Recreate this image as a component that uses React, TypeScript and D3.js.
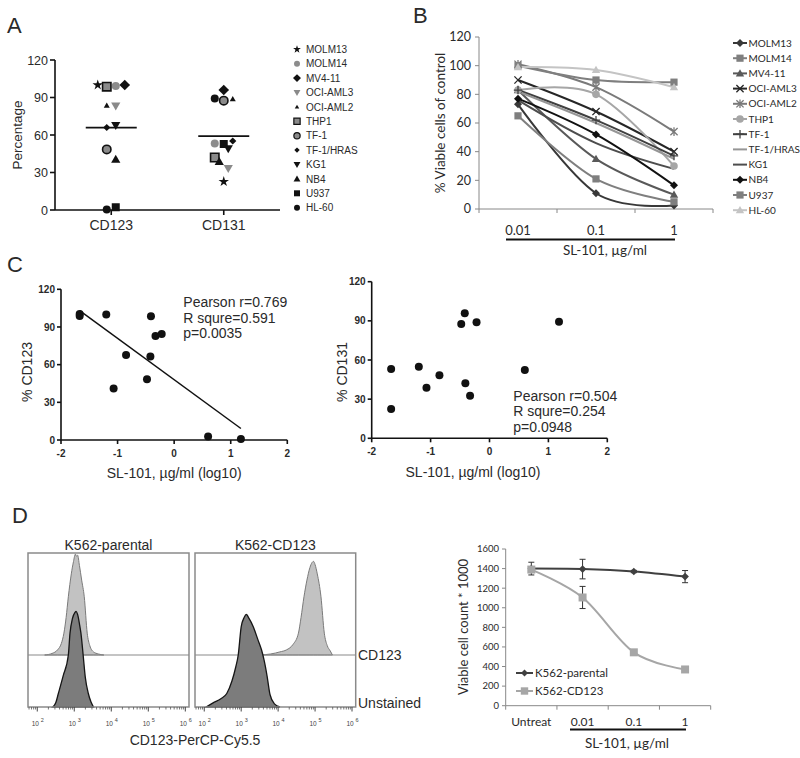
import React from "react";
import * as d3 from "d3";

// ---------- Panel A ----------
const cellLines = ["MOLM13", "MOLM14", "MV4-11", "OCI-AML3", "OCI-AML2", "THP1", "TF-1", "TF-1/HRAS", "KG1", "NB4", "U937", "HL-60"];
const aGroups = ["CD123", "CD131"];
const aCD123 = [100, 99.2, 100, 83.2, 83.7, 98.7, 48.5, 66, 67.7, 40.5, 2.2, 0.5];
const aCD131 = [22.7, 53.3, 96, 33.3, 88.8, 42, 87.5, 55.2, 49, 38.7, 52.8, 89.3];
const aSlot123 = [-1.5, 0.5, 1.5, 0.5, -0.5, -0.5, -0.5, -0.5, 0.5, 0.5, 0.5, -0.5];
const aSlot131 = [0, -1, 0, 0.5, 1, -1, 0, 1, 0.5, -0.5, 0, -1];
const aTicks = [0, 30, 60, 90, 120];

// ---------- Panel B ----------
const bDoses = ["0.01", "0.1", "1"];
const bTicks = [0, 20, 40, 60, 80, 100, 120];
const bMOLM13 = [73, 11, 2.5];
const bMOLM14 = [65, 21, 5];
const bMV411 = [83, 35, 10];
const bOCIAML3 = [90, 68, 40];
const bOCIAML2 = [101, 85, 54];
const bTHP1 = [83, 80, 30];
const bTF1 = [83, 62, 37];
const bTF1HRAS = [82, 60, 35];
const bKG1 = [76, 46, 28];
const bNB4 = [77, 52, 16.5];
const bU937 = [100, 90, 88.5];
const bHL60 = [99, 97, 85];
const bValues = [bMOLM13, bMOLM14, bMV411, bOCIAML3, bOCIAML2, bTHP1, bTF1, bTF1HRAS, bKG1, bNB4, bU937, bHL60];

// ---------- Panel C ----------
const cTicksX = [-2, -1, 0, 1, 2];
const cTicksY = [0, 30, 60, 90, 120];
const cX123 = [-1.67, -1.67, -1.2, -0.41, -0.33, -0.22, -0.85, -0.42, -0.48, -1.07, 0.6, 1.18];
const cY123 = [100.3, 98.7, 100, 98.5, 82.8, 84.4, 67.7, 66.4, 48.3, 41.1, 2.7, 0.8];
const cX131 = [-0.42, -0.48, -0.22, 1.18, -1.67, -1.2, 0.6, -0.85, -1.07, -0.41, -0.33, -1.67];
const cY131 = [95.8, 87.6, 88.9, 89.4, 53.1, 54.9, 52.3, 48.3, 38.8, 42.1, 32.7, 22.5];
const cStats123 = ["Pearson r=0.769", "R squre=0.591", "p=0.0035"];
const cStats131 = ["Pearson r=0.504", "R squre=0.254", "p=0.0948"];

// ---------- Panel D (histograms: [log10 intensity, % of lane]) ----------
const hParentalCD123 = [[2.2, 0], [2.4, 1.5], [2.55, 5], [2.65, 11], [2.72, 21], [2.78, 36], [2.84, 56], [2.92, 78], [2.98, 90], [3.03, 97], [3.06, 95], [3.09, 96], [3.14, 86], [3.2, 72], [3.27, 56], [3.35, 21], [3.42, 9], [3.52, 3], [3.65, 1], [3.8, 0]];
const hParentalUnst = [[2.42, 0], [2.5, 4], [2.57, 13], [2.7, 30], [2.84, 50], [2.885, 71], [2.95, 85], [3.02, 91], [3.05, 92], [3.09, 89], [3.14, 80], [3.18, 71], [3.24, 50], [3.3, 28], [3.38, 13], [3.45, 5], [3.52, 0]];
const hCD123Unst = [[2.05, 0], [2.24, 4], [2.45, 8], [2.61, 13], [2.75, 25], [2.85, 38], [2.92, 50], [3.0, 77], [3.08, 86], [3.14, 89], [3.2, 86], [3.33, 77], [3.45, 65], [3.55, 55], [3.62, 45], [3.7, 30], [3.78, 12], [3.9, 3], [4.05, 0]];
const hCD123Stained = [[3.5, 0], [3.8, 1], [4.05, 3], [4.23, 5], [4.4, 10], [4.55, 21], [4.62, 36], [4.7, 56], [4.78, 72], [4.86, 84], [4.92, 89], [4.96, 90], [5.0, 87], [5.06, 78], [5.16, 56], [5.25, 21], [5.33, 9], [5.41, 4], [5.47, 0]];
const hDecades = [2, 3, 4, 5, 6];
const hSamples = ["K562-parental", "K562-CD123"];
const hLanes = ["CD123", "Unstained"];

// ---------- Panel D (viable counts) ----------
const dCats = ["Untreat", "0.01", "0.1", "1"];
const dTicks = [0, 200, 400, 600, 800, 1000, 1200, 1400, 1600];
const dParental = [1400, 1395, 1370, 1318];
const dParentalErr = [65, 100, 12, 62];
const dCD123 = [1390, 1105, 545, 370];
const dCD123Err = [30, 113, 10, 12];

const ARIAL = "'Liberation Sans', Arial, sans-serif";
const CAL = "Lato, 'Open Sans', sans-serif";

// shape helpers
const diamondP = (r: number) => `M0,${-r}L${r},0L0,${r}L${-r},0Z`;
const squareP = (r: number) => `M${-r},${-r}h${2 * r}v${2 * r}h${-2 * r}Z`;
const triUpP = (s: number) => `M0,${-s}L${s},${s * 0.75}L${-s},${s * 0.75}Z`;
const triDownP = (s: number) => `M0,${s}L${s},${-s * 0.75}L${-s},${-s * 0.75}Z`;
const timesP = (r: number) => `M${-r},${-r}L${r},${r}M${-r},${r}L${r},${-r}`;
const plusP = (r: number) => `M${-r},0H${r}M0,${-r}V${r}`;
const asterP = (r: number) => `${timesP(r)}M0,${-r * 1.2}V${r * 1.2}`;
const starP = (size: number) => d3.symbol().type(d3.symbolStar).size(size)() as string;

function AMarker({ i, x, y, scale = 1 }: { i: number; x: number; y: number; scale?: number }) {
  const k = scale;
  const t = `translate(${x},${y})`;
  switch (i) {
    case 0: return <path transform={t} d={starP(34 * k * k)} fill="#111" />;
    case 1: return <circle cx={x} cy={y} r={4 * k} fill="#8c8c8c" />;
    case 2: return <path transform={t} d={diamondP(5.3 * k)} fill="#111" />;
    case 3: return <path transform={t} d={triDownP(4.6 * k)} fill="#8a8a8a" />;
    case 4: return <path transform={t} d={triUpP(3 * k)} fill="#111" />;
    case 5: return <path transform={t} d={squareP(4.2 * k)} fill="#8a8a8a" stroke="#111" strokeWidth={1.6 * k} />;
    case 6: return <circle cx={x} cy={y} r={4.2 * k} fill="#8a8a8a" stroke="#111" strokeWidth={1.6 * k} />;
    case 7: return <path transform={t} d={diamondP(3.6 * k)} fill="#111" />;
    case 8: return <path transform={t} d={triDownP(4.6 * k)} fill="#111" />;
    case 9: return <path transform={t} d={triUpP(4.6 * k)} fill="#111" />;
    case 10: return <path transform={t} d={squareP(4 * k)} fill="#111" />;
    default: return <circle cx={x} cy={y} r={4 * k} fill="#111" />;
  }
}

const bStyles = [
  { c: "#383838", m: "diamond" },
  { c: "#7f7f7f", m: "square" },
  { c: "#595959", m: "triangle" },
  { c: "#262626", m: "times" },
  { c: "#7a7a7a", m: "aster" },
  { c: "#a6a6a6", m: "circle" },
  { c: "#404040", m: "plus" },
  { c: "#969696", m: "none" },
  { c: "#4d4d4d", m: "none" },
  { c: "#111111", m: "diamond" },
  { c: "#7f7f7f", m: "square" },
  { c: "#c4c4c4", m: "triangle" },
];

function BMarker({ m, c, x, y }: { m: string; c: string; x: number; y: number }) {
  const t = `translate(${x},${y})`;
  if (m === "diamond") return <path transform={t} d={diamondP(4)} fill={c} />;
  if (m === "square") return <path transform={t} d={squareP(3.6)} fill={c} />;
  if (m === "triangle") return <path transform={t} d={triUpP(4.2)} fill={c} />;
  if (m === "circle") return <circle cx={x} cy={y} r={3.8} fill={c} />;
  if (m === "times") return <path transform={t} d={timesP(3.6)} stroke={c} strokeWidth={1.3} fill="none" />;
  if (m === "aster") return <path transform={t} d={asterP(3.6)} stroke={c} strokeWidth={1.3} fill="none" />;
  if (m === "plus") return <path transform={t} d={plusP(4.2)} stroke={c} strokeWidth={1.3} fill="none" />;
  return null;
}

function regression(xs: number[], ys: number[]) {
  const mx = d3.mean(xs) as number;
  const my = d3.mean(ys) as number;
  let sxy = 0, sxx = 0;
  xs.forEach((x, i) => { sxy += (x - mx) * (ys[i] - my); sxx += (x - mx) * (x - mx); });
  const slope = sxy / sxx;
  return { slope, intercept: my - slope * mx };
}

export default function App() {
  // ===== Panel A =====
  const yA = d3.scaleLinear().domain([0, 120]).range([210, 60]);
  const xA = d3.scalePoint<string>().domain(aGroups).range([55, 280]).padding(0.5);
  const slotW = 9;
  const aData = [aCD123, aCD131];
  const aSlots = [aSlot123, aSlot131];

  // ===== Panel B =====
  const xB = d3.scaleBand<string>().domain(bDoses).range([479, 713]);
  const yB = d3.scaleLinear().domain([0, 120]).range([209, 37]);
  const bCx = (d: string) => (xB(d) as number) + xB.bandwidth() / 2;
  const lineB = d3.line<number>().x((_, i) => bCx(bDoses[i])).y((v) => yB(v)).curve(d3.curveCatmullRom.alpha(0));

  // ===== Panel C =====
  const xCL = d3.scaleLinear().domain([-2, 2]).range([61, 287.3]);
  const yCL = d3.scaleLinear().domain([0, 120]).range([440, 289.3]);
  const xCR = d3.scaleLinear().domain([-2, 2]).range([371.7, 607.3]);
  const yCR = d3.scaleLinear().domain([0, 120]).range([438.3, 281.7]);
  const reg = regression(cX123, cY123);
  const [rx0, rx1] = d3.extent(cX123) as [number, number];

  // ===== Panel D histograms =====
  const xHs = [
    d3.scaleLinear().domain([1.75, 6.1]).range([28, 189]),
    d3.scaleLinear().domain([1.75, 6.1]).range([195, 355.7]),
  ];
  const yLaneTop = d3.scaleLinear().domain([0, 100]).range([655, 551]);
  const yLaneBot = d3.scaleLinear().domain([0, 100]).range([707, 603]);
  const areaFor = (xs: d3.ScaleLinear<number, number>, ys: d3.ScaleLinear<number, number>) =>
    d3.area<number[]>().x((d) => xs(d[0])).y0(ys(0)).y1((d) => ys(d[1])).curve(d3.curveMonotoneX);
  const boxTop = 553;
  const boxBot = 707;
  const minorTicks: number[] = [];
  for (let e = 1; e <= 5; e++) for (let k = 2; k <= 9; k++) {
    const v = e + Math.log10(k);
    if (v > 1.75 && v < 6.1) minorTicks.push(v);
  }

  // ===== Panel D counts =====
  const xD = d3.scaleBand<string>().domain(dCats).range([505.7, 710.7]);
  const yD = d3.scaleLinear().domain([0, 1600]).range([705.7, 549]);
  const dCx = (c: string) => (xD(c) as number) + xD.bandwidth() / 2;
  const lineD = d3.line<number>().x((_, i) => dCx(dCats[i])).y((v) => yD(v)).curve(d3.curveCatmullRom.alpha(0));

  const txt = "#2a2a2a";

  return (
    <svg width={800} height={758} style={{ position: "absolute", left: 0, top: 0, background: "#fff" }} fontFamily={ARIAL}>
      <rect width={800} height={758} fill="#fff" />
      {/* Panel letters */}
      <text x={7} y={33} fontSize={22} fill={txt}>A</text>
      <text x={413} y={23} fontSize={22} fill={txt}>B</text>
      <text x={7} y={272} fontSize={22} fill={txt}>C</text>
      <text x={12} y={523} fontSize={22} fill={txt}>D</text>

      {/* ===== Panel A ===== */}
      <g>
        <line x1={55} y1={yA(120)} x2={55} y2={yA(0)} stroke="#111" strokeWidth={1.6} />
        <line x1={55} y1={yA(0)} x2={280} y2={yA(0)} stroke="#111" strokeWidth={1.6} />
        {aTicks.map((t) => (
          <g key={t}>
            <line x1={50} x2={55} y1={yA(t)} y2={yA(t)} stroke="#111" strokeWidth={1.6} />
            <text x={48} y={yA(t)} dy="0.36em" textAnchor="end" fontSize={12.5} fill={txt}>{t}</text>
          </g>
        ))}
        {aGroups.map((g) => (
          <g key={g}>
            <line x1={xA(g)} x2={xA(g)} y1={yA(0)} y2={yA(0) + 5} stroke="#111" strokeWidth={1.6} />
            <text x={xA(g)} y={yA(0) + 20} textAnchor="middle" fontSize={14} fill={txt}>{g}</text>
          </g>
        ))}
        <text transform={`translate(22,135) rotate(-90)`} textAnchor="middle" fontSize={13.5} fill={txt}>Percentage</text>
        {aData.map((vals, gi) => {
          const cx = xA(aGroups[gi]) as number;
          const m = d3.mean(vals) as number;
          return (
            <g key={gi}>
              {vals.map((v, i) => (
                <AMarker key={i} i={i} x={cx + aSlots[gi][i] * slotW} y={yA(v)} />
              ))}
              <line x1={cx - 25.5} x2={cx + 25.5} y1={yA(m)} y2={yA(m)} stroke="#111" strokeWidth={1.8} />
            </g>
          );
        })}
        {cellLines.map((n, i) => (
          <g key={n}>
            <AMarker i={i} x={297} y={49.3 + i * 14.4} scale={0.75} />
            <text x={306} y={49.3 + i * 14.4} dy="0.36em" fontSize={10} fill={txt}>{n}</text>
          </g>
        ))}
      </g>

      {/* ===== Panel B ===== */}
      <g fontFamily={CAL}>
        <line x1={479} y1={yB(120)} x2={479} y2={yB(0)} stroke="#888" strokeWidth={1} />
        <line x1={479} y1={yB(0)} x2={713} y2={yB(0)} stroke="#888" strokeWidth={1} />
        {bTicks.map((t) => (
          <g key={t}>
            <line x1={475} x2={479} y1={yB(t)} y2={yB(t)} stroke="#888" />
            <text x={471} y={yB(t)} dy="0.35em" textAnchor="end" fontSize={12.5} fill={txt}>{t}</text>
          </g>
        ))}
        {[...bDoses.map((d) => xB(d) as number), 713].map((x, i) => (
          <line key={i} x1={x} x2={x} y1={yB(0)} y2={yB(0) + 4} stroke="#888" />
        ))}
        {bDoses.map((d) => (
          <text key={d} x={bCx(d)} y={235} textAnchor="middle" fontSize={13} fill={txt}>{d}</text>
        ))}
        <line x1={506} x2={675} y1={239.5} y2={239.5} stroke="#111" strokeWidth={2} />
        <text x={605} y={255} textAnchor="middle" fontSize={13.5} fill={txt}>SL-101, µg/ml</text>
        <text transform={`translate(445,123) rotate(-90)`} textAnchor="middle" fontSize={13.5} fill={txt}>% Viable cells of control</text>
        {bValues.map((vals, si) => (
          <path key={si} d={lineB(vals) as string} fill="none" stroke={bStyles[si].c} strokeWidth={2} />
        ))}
        {bValues.map((vals, si) => (
          <g key={si}>
            {vals.map((v, i) => (
              <BMarker key={i} m={bStyles[si].m} c={bStyles[si].c} x={bCx(bDoses[i])} y={yB(v)} />
            ))}
          </g>
        ))}
        {cellLines.map((n, i) => {
          const y = 43 + i * 15.2;
          return (
            <g key={n}>
              <line x1={733} x2={747} y1={y} y2={y} stroke={bStyles[i].c} strokeWidth={2} />
              <BMarker m={bStyles[i].m} c={bStyles[i].c} x={740} y={y} />
              <text x={748.5} y={y} dy="0.35em" fontSize={10} fill={txt}>{n}</text>
            </g>
          );
        })}
      </g>

      {/* ===== Panel C left ===== */}
      <g>
        <line x1={xCL(-2)} y1={yCL(120)} x2={xCL(-2)} y2={yCL(0)} stroke="#111" strokeWidth={1.6} />
        <line x1={xCL(-2)} y1={yCL(0)} x2={xCL(2)} y2={yCL(0)} stroke="#111" strokeWidth={1.6} />
        {cTicksY.map((t) => (
          <g key={t}>
            <line x1={xCL(-2) - 4} x2={xCL(-2)} y1={yCL(t)} y2={yCL(t)} stroke="#111" strokeWidth={1.6} />
            <text x={xCL(-2) - 6} y={yCL(t)} dy="0.36em" textAnchor="end" fontSize={10} fontWeight="bold" fill={txt}>{t}</text>
          </g>
        ))}
        {cTicksX.map((t) => (
          <g key={t}>
            <line x1={xCL(t)} x2={xCL(t)} y1={yCL(0)} y2={yCL(0) + 4} stroke="#111" strokeWidth={1.6} />
            <text x={xCL(t)} y={yCL(0) + 16.5} textAnchor="middle" fontSize={10} fontWeight="bold" fill={txt}>{t}</text>
          </g>
        ))}
        <text x={(xCL(-2) + xCL(2)) / 2} y={477.5} textAnchor="middle" fontSize={14} fill={txt}>SL-101, µg/ml (log10)</text>
        <text transform={`translate(31.5,372) rotate(-90)`} textAnchor="middle" fontSize={14} fill={txt}>% CD123</text>
        <line x1={xCL(rx0)} y1={yCL(reg.intercept + reg.slope * rx0)} x2={xCL(rx1)} y2={yCL(reg.intercept + reg.slope * rx1)} stroke="#111" strokeWidth={1.5} />
        {cX123.map((x, i) => (
          <circle key={i} cx={xCL(x)} cy={yCL(cY123[i])} r={4} fill="#111" />
        ))}
        {cStats123.map((s, i) => (
          <text key={i} x={183.3} y={307 + i * 15.5} fontSize={14} fill={txt}>{s}</text>
        ))}
      </g>

      {/* ===== Panel C right ===== */}
      <g>
        <line x1={xCR(-2)} y1={yCR(120)} x2={xCR(-2)} y2={yCR(0)} stroke="#111" strokeWidth={1.6} />
        <line x1={xCR(-2)} y1={yCR(0)} x2={xCR(2)} y2={yCR(0)} stroke="#111" strokeWidth={1.6} />
        {cTicksY.map((t) => (
          <g key={t}>
            <line x1={xCR(-2) - 4} x2={xCR(-2)} y1={yCR(t)} y2={yCR(t)} stroke="#111" strokeWidth={1.6} />
            <text x={xCR(-2) - 6} y={yCR(t)} dy="0.36em" textAnchor="end" fontSize={10} fontWeight="bold" fill={txt}>{t}</text>
          </g>
        ))}
        {cTicksX.map((t) => (
          <g key={t}>
            <line x1={xCR(t)} x2={xCR(t)} y1={yCR(0)} y2={yCR(0) + 4} stroke="#111" strokeWidth={1.6} />
            <text x={xCR(t)} y={yCR(0) + 17} textAnchor="middle" fontSize={10} fontWeight="bold" fill={txt}>{t}</text>
          </g>
        ))}
        <text x={473} y={477} textAnchor="middle" fontSize={14} fill={txt}>SL-101, µg/ml (log10)</text>
        <text transform={`translate(346.5,372) rotate(-90)`} textAnchor="middle" fontSize={14} fill={txt}>% CD131</text>
        {cX131.map((x, i) => (
          <circle key={i} cx={xCR(x)} cy={yCR(cY131[i])} r={4} fill="#111" />
        ))}
        {cStats131.map((s, i) => (
          <text key={i} x={513.3} y={400.5 + i * 15.5} fontSize={14} fill={txt}>{s}</text>
        ))}
      </g>

      {/* ===== Panel D histograms ===== */}
      <g>
        {hSamples.map((s, si) => {
          const xs = xHs[si];
          const [x0, x1] = xs.range();
          const light = si === 0 ? hParentalCD123 : hCD123Stained;
          const dark = si === 0 ? hParentalUnst : hCD123Unst;
          return (
            <g key={s}>
              <text x={(x0 + x1) / 2} y={550} textAnchor="middle" fontSize={14} fill={txt}>{s}</text>
              <path d={areaFor(xs, yLaneTop)(light) as string} fill="#c2c2c2" stroke="#7a7a7a" strokeWidth={1} />
              <line x1={x0} x2={x1} y1={655} y2={655} stroke="#8a8a8a" strokeWidth={1.2} />
              <path d={areaFor(xs, yLaneBot)(dark) as string} fill="#7c7c7c" stroke="#151515" strokeWidth={1.3} />
              <rect x={x0} y={boxTop} width={x1 - x0} height={boxBot - boxTop} fill="none" stroke="#8a8a8a" strokeWidth={1.5} />
              {minorTicks.map((v, i) => (
                <line key={i} x1={xs(v)} x2={xs(v)} y1={boxBot} y2={boxBot + 2.5} stroke="#555" strokeWidth={0.8} />
              ))}
              {hDecades.map((e) => (
                <g key={e}>
                  <line x1={xs(e)} x2={xs(e)} y1={boxBot} y2={boxBot + 4.5} stroke="#444" strokeWidth={1} />
                  <text x={xs(e) - 2} y={726} textAnchor="middle" fontSize={6.5} fill="#444">10</text>
                  <text x={xs(e) + 3.5} y={722} fontSize={5.5} fill="#444">{e}</text>
                </g>
              ))}
            </g>
          );
        })}
        <text x={358} y={655} dy="0.36em" fontSize={14} fill={txt}>{hLanes[0]}</text>
        <text x={358} y={703} dy="0.36em" fontSize={14} fill={txt}>{hLanes[1]}</text>
        <text x={195} y={745} textAnchor="middle" fontSize={14} fill={txt}>CD123-PerCP-Cy5.5</text>
      </g>

      {/* ===== Panel D counts ===== */}
      <g fontFamily={CAL}>
        <line x1={505.7} y1={yD(1600)} x2={505.7} y2={yD(0)} stroke="#888" />
        <line x1={505.7} y1={yD(0)} x2={710.7} y2={yD(0)} stroke="#888" />
        {dTicks.map((t) => (
          <g key={t}>
            <line x1={502} x2={505.7} y1={yD(t)} y2={yD(t)} stroke="#888" />
            <text x={499} y={yD(t)} dy="0.35em" textAnchor="end" fontSize={9.5} fill={txt}>{t}</text>
          </g>
        ))}
        {[...dCats.map((c) => xD(c) as number), 710.7].map((x, i) => (
          <line key={i} x1={x} x2={x} y1={yD(0)} y2={yD(0) + 4} stroke="#888" />
        ))}
        {dCats.map((c) => (
          <text key={c} x={dCx(c)} y={726} textAnchor="middle" fontSize={12} fill={txt}>{c}</text>
        ))}
        <line x1={570} x2={686} y1={729.5} y2={729.5} stroke="#111" strokeWidth={2} />
        <text x={627} y={748} textAnchor="middle" fontSize={13.5} fill={txt}>SL-101, µg/ml</text>
        <text transform={`translate(468,627) rotate(-90)`} textAnchor="middle" fontSize={13} fill={txt}>Viable cell count * 1000</text>
        <path d={lineD(dCD123) as string} fill="none" stroke="#a6a6a6" strokeWidth={2} />
        <path d={lineD(dParental) as string} fill="none" stroke="#404040" strokeWidth={2} />
        {[{ v: dParental, e: dParentalErr }, { v: dCD123, e: dCD123Err }].map((s, si) => (
          <g key={si}>
            {s.v.map((v, i) => {
              const x = dCx(dCats[i]);
              return (
                <g key={i}>
                  <line x1={x} x2={x} y1={yD(v - s.e[i])} y2={yD(v + s.e[i])} stroke="#333" strokeWidth={1} />
                  <line x1={x - 3} x2={x + 3} y1={yD(v - s.e[i])} y2={yD(v - s.e[i])} stroke="#333" strokeWidth={1} />
                  <line x1={x - 3} x2={x + 3} y1={yD(v + s.e[i])} y2={yD(v + s.e[i])} stroke="#333" strokeWidth={1} />
                </g>
              );
            })}
          </g>
        ))}
        {dParental.map((v, i) => (
          <path key={i} transform={`translate(${dCx(dCats[i])},${yD(v)})`} d={diamondP(3.8)} fill="#404040" />
        ))}
        {dCD123.map((v, i) => (
          <path key={i} transform={`translate(${dCx(dCats[i])},${yD(v)})`} d={squareP(4)} fill="#a6a6a6" />
        ))}
        <line x1={516} x2={533} y1={673} y2={673} stroke="#404040" strokeWidth={2} />
        <path transform="translate(524.5,673)" d={diamondP(3.5)} fill="#404040" />
        <text x={535} y={673} dy="0.35em" fontSize={11.5} fill={txt}>K562-parental</text>
        <line x1={516} x2={533} y1={691} y2={691} stroke="#a6a6a6" strokeWidth={2} />
        <path transform="translate(524.5,691)" d={squareP(3.7)} fill="#a6a6a6" />
        <text x={535} y={691} dy="0.35em" fontSize={11.5} fill={txt}>K562-CD123</text>
      </g>
    </svg>
  );
}
